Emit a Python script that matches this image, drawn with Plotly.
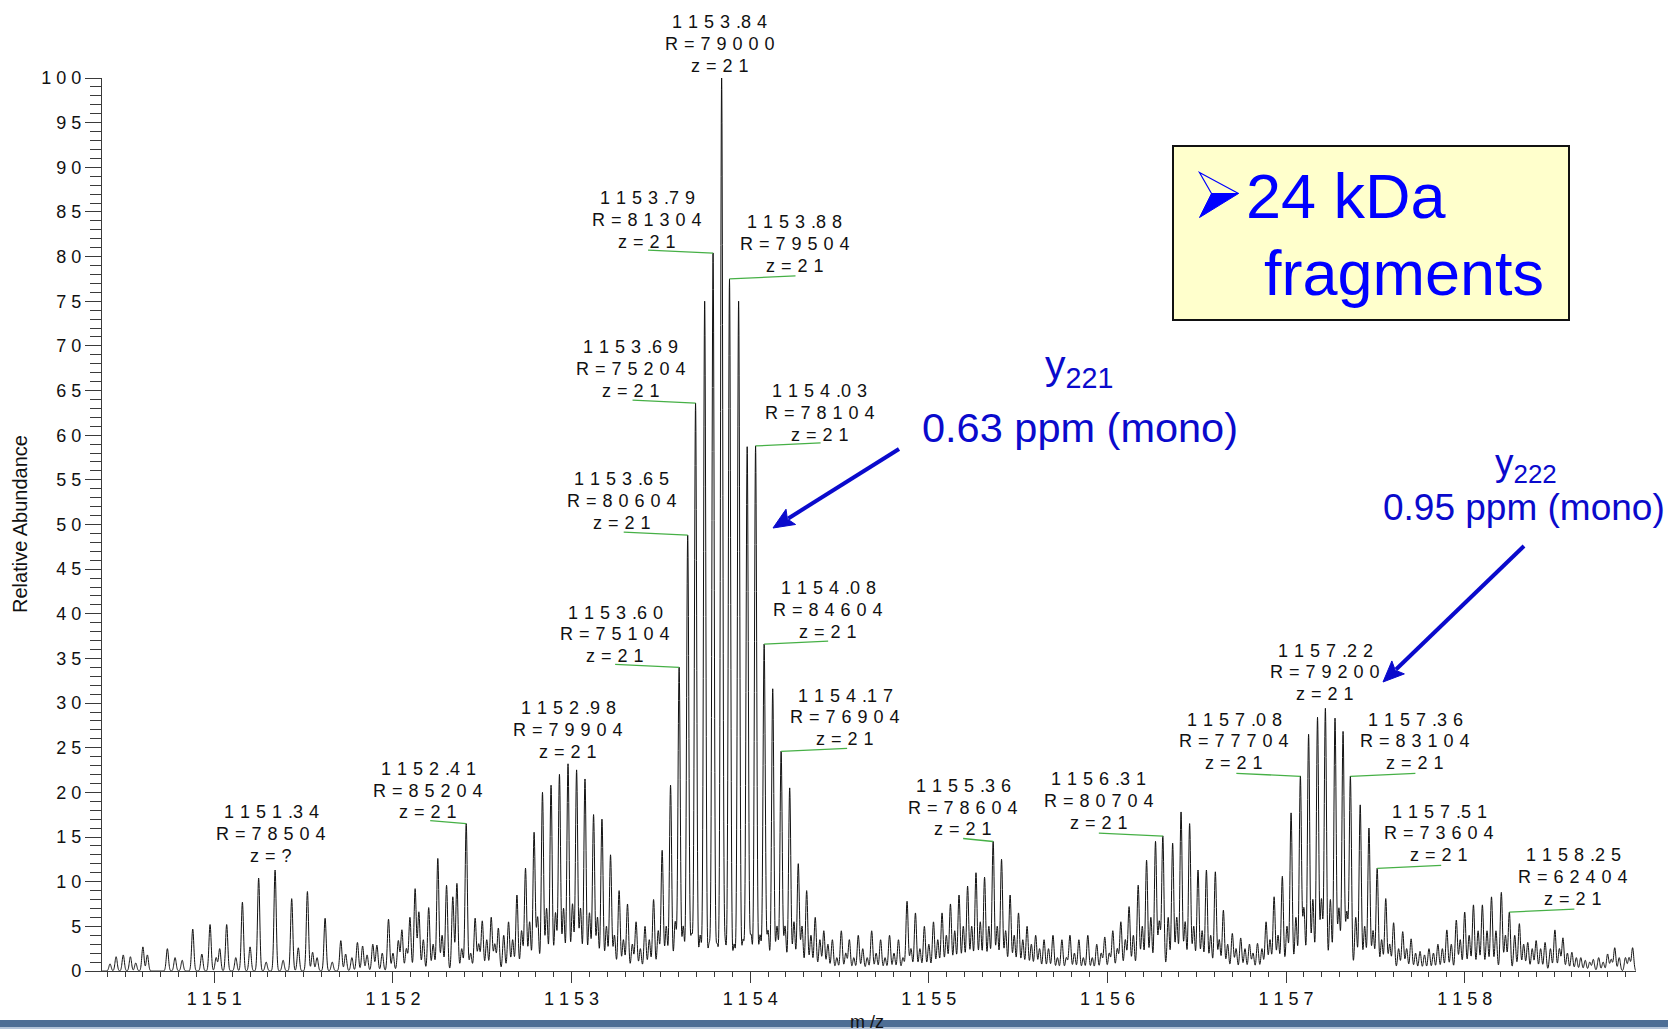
import numpy as np
import plotly.graph_objects as go

FONT = "Liberation Sans, Arial, Helvetica, sans-serif"

# ---------------- centroid peak list (m/z, relative abundance) ----------------
# 1150.4 - 1151.95 : low-level cluster around 1151.34
mz_a = [1150.416, 1150.45, 1150.49, 1150.53, 1150.56, 1150.60, 1150.625, 1150.737,
        1150.78, 1150.82, 1150.879, 1150.93, 1150.976, 1151.01, 1151.03, 1151.069,
        1151.12, 1151.157, 1151.20, 1151.248, 1151.29, 1151.34, 1151.385, 1151.433,
        1151.47, 1151.521, 1151.55, 1151.575, 1151.62, 1151.66, 1151.708, 1151.735,
        1151.77, 1151.801, 1151.83, 1151.855, 1151.887, 1151.91, 1151.94]
ab_a = [0.8, 1.6, 1.8, 1.6, 0.9, 2.7, 1.8, 2.5,
        1.5, 1.2, 4.7, 1.9, 5.2, 1.5, 2.5, 5.2,
        1.5, 7.7, 2.7, 10.4, 1.0, 11.3, 1.2, 8.1,
        2.6, 8.9, 2.1, 1.5, 5.9, 1.0, 3.4, 1.9,
        1.5, 3.2, 2.8, 1.8, 3.0, 2.9, 2.0]

# 1151.95 - 1152.60 : cluster around 1152.41
mz_b = [1151.975, 1152.00, 1152.03, 1152.05, 1152.075, 1152.095, 1152.124, 1152.145,
        1152.17, 1152.20, 1152.225, 1152.251, 1152.275, 1152.30, 1152.335, 1152.358,
        1152.385, 1152.41, 1152.435, 1152.46, 1152.48, 1152.50, 1152.525, 1152.55,
        1152.57, 1152.59]
ab_b = [5.8, 2.0, 3.4, 4.6, 2.5, 6.0, 9.2, 6.6,
        3.5, 7.1, 3.0, 12.6, 4.0, 9.6, 8.3, 9.8,
        2.5, 16.5, 2.0, 5.9, 3.0, 5.6, 3.5, 6.0,
        3.0, 4.8]

# 1152.60 - 1153.40 : isotope cluster around 1152.98
mz_c = [1152.62, 1152.647, 1152.67, 1152.694, 1152.72, 1152.742, 1152.765, 1152.79,
        1152.81, 1152.837, 1152.86, 1152.885, 1152.91, 1152.932, 1152.955, 1152.98,
        1153.005, 1153.028, 1153.05, 1153.075, 1153.10, 1153.123, 1153.145, 1153.17,
        1153.195, 1153.218, 1153.24, 1153.266, 1153.29, 1153.313, 1153.34, 1153.361,
        1153.385]
ab_c = [4.0, 5.5, 3.5, 8.5, 4.5, 11.5, 5.5, 15.5,
        6.0, 20.0, 7.0, 20.8, 6.5, 22.0, 7.0, 23.2,
        7.5, 22.5, 7.0, 21.5, 6.5, 17.5, 6.0, 17.0,
        5.0, 13.0, 4.0, 9.0, 3.5, 7.5, 3.0, 5.5,
        2.5]

# 1153.40 - 1154.45 : main isotope cluster, apex 1153.84
mz_d = [1153.411, 1153.435, 1153.459, 1153.485, 1153.507, 1153.53, 1153.554, 1153.58,
        1153.602, 1153.625, 1153.65, 1153.672, 1153.694, 1153.72, 1153.745, 1153.77,
        1153.792, 1153.815, 1153.84, 1153.86, 1153.884, 1153.91, 1153.935, 1153.96,
        1153.983, 1154.005, 1154.03, 1154.055, 1154.078, 1154.10, 1154.126, 1154.15,
        1154.173, 1154.195, 1154.221, 1154.245, 1154.269, 1154.29, 1154.316, 1154.34,
        1154.364, 1154.39, 1154.412, 1154.435]
ab_d = [5.0, 3.5, 8.0, 4.5, 13.5, 5.0, 20.8, 5.5,
        34.0, 5.0, 48.8, 4.0, 63.6, 4.0, 75.0, 3.0,
        80.4, 3.0, 100.0, 3.0, 77.5, 3.0, 75.0, 3.5,
        58.7, 4.0, 58.8, 4.0, 36.6, 4.5, 31.6, 5.0,
        24.6, 5.0, 20.5, 5.5, 12.0, 5.0, 9.0, 4.0,
        6.0, 3.5, 4.5, 3.0]

# 1154.45 - 1155.00 : baseline peaks
mz_e = [1154.46, 1154.485, 1154.51, 1154.535, 1154.555, 1154.58, 1154.605, 1154.63,
        1154.655, 1154.68, 1154.705, 1154.73, 1154.755, 1154.78, 1154.805, 1154.83,
        1154.855, 1154.878, 1154.90, 1154.925, 1154.95, 1154.975]
ab_e = [3.5, 1.5, 4.5, 2.0, 3.5, 1.5, 4.0, 2.5,
        1.5, 4.5, 2.0, 3.5, 1.5, 4.0, 2.0, 3.5,
        1.5, 7.8, 2.5, 6.5, 2.5, 5.0]

# 1155.00 - 1155.68 : cluster around 1155.36
mz_f = [1155.00, 1155.026, 1155.05, 1155.074, 1155.098, 1155.121, 1155.145, 1155.169,
        1155.193, 1155.217, 1155.24, 1155.264, 1155.288, 1155.312, 1155.336, 1155.36,
        1155.383, 1155.407, 1155.43, 1155.455, 1155.478, 1155.502, 1155.526, 1155.55,
        1155.574, 1155.598, 1155.62, 1155.645, 1155.67]
ab_f = [3.0, 5.5, 3.5, 6.5, 4.0, 7.5, 4.5, 8.5,
        5.0, 9.5, 5.0, 11.0, 5.5, 10.5, 5.0, 14.5,
        5.0, 12.5, 4.5, 8.5, 4.0, 6.5, 3.5, 5.0,
        3.0, 4.0, 2.5, 3.5, 2.5]

# 1155.69 - 1156.10 : baseline peaks
mz_g = [1155.695, 1155.72, 1155.745, 1155.77, 1155.79, 1155.815, 1155.84, 1155.865,
        1155.89, 1155.915, 1155.94, 1155.965, 1155.985, 1156.01, 1156.03, 1156.055,
        1156.075, 1156.10]
ab_g = [4.0, 1.5, 3.5, 1.5, 4.0, 2.0, 3.5, 1.5,
        4.0, 1.5, 3.0, 2.0, 3.8, 2.0, 4.5, 2.5,
        5.5, 3.5]

# 1156.10 - 1156.83 : cluster around 1156.31
mz_h = [1156.121, 1156.145, 1156.172, 1156.195, 1156.219, 1156.243, 1156.269, 1156.29,
        1156.31, 1156.34, 1156.365, 1156.388, 1156.412, 1156.435, 1156.46, 1156.483,
        1156.507, 1156.53, 1156.554, 1156.578, 1156.604, 1156.626, 1156.649, 1156.673,
        1156.699, 1156.72, 1156.746, 1156.77, 1156.795, 1156.815]
ab_h = [7.2, 4.0, 9.6, 5.0, 12.4, 6.0, 14.5, 5.5,
        15.1, 6.0, 14.3, 6.0, 17.8, 5.5, 16.5, 5.0,
        11.3, 4.5, 11.3, 4.0, 11.1, 3.5, 6.8, 3.0,
        4.2, 2.5, 3.7, 2.5, 3.0, 2.0]

# 1156.84 - 1157.89 : cluster around 1157.22
mz_i = [1156.84, 1156.865, 1156.888, 1156.91, 1156.933, 1156.955, 1156.979, 1157.005,
        1157.028, 1157.055, 1157.08, 1157.10, 1157.126, 1157.15, 1157.176, 1157.198,
        1157.22, 1157.248, 1157.274, 1157.296, 1157.319, 1157.34, 1157.36, 1157.39,
        1157.415, 1157.44, 1157.464, 1157.487, 1157.51, 1157.535, 1157.558, 1157.58,
        1157.602, 1157.63, 1157.653, 1157.675, 1157.70, 1157.725, 1157.75, 1157.775,
        1157.80, 1157.825, 1157.85, 1157.875]
ab_i = [3.1, 2.5, 5.5, 3.5, 8.3, 4.0, 10.6, 5.0,
        17.7, 6.0, 21.8, 7.0, 26.5, 8.0, 28.4, 8.0,
        29.4, 8.0, 28.3, 7.0, 26.8, 6.5, 21.8, 6.0,
        18.6, 5.0, 16.0, 4.5, 11.5, 3.5, 8.1, 3.0,
        5.4, 2.5, 4.4, 2.5, 3.6, 2.0, 2.2, 1.8,
        2.5, 2.0, 3.0, 2.5]

# 1157.90 - 1158.96 : cluster around 1158.25 and tail
mz_j = [1157.90, 1157.925, 1157.953, 1157.975, 1158.00, 1158.025, 1158.049, 1158.075,
        1158.099, 1158.125, 1158.15, 1158.175, 1158.205, 1158.228, 1158.25, 1158.28,
        1158.306, 1158.33, 1158.353, 1158.378, 1158.40, 1158.425, 1158.45, 1158.48,
        1158.505, 1158.53, 1158.55, 1158.575, 1158.60, 1158.625, 1158.65, 1158.675,
        1158.70, 1158.72, 1158.75, 1158.775, 1158.80, 1158.82, 1158.84, 1158.865,
        1158.90, 1158.92, 1158.94]
ab_j = [4.6, 3.0, 5.7, 3.5, 6.6, 4.0, 7.4, 4.5,
        7.4, 4.5, 8.3, 4.5, 8.8, 4.0, 6.6, 4.0,
        5.3, 3.0, 3.2, 2.5, 3.4, 2.5, 3.2, 2.5,
        4.6, 2.5, 3.7, 2.0, 2.1, 1.5, 1.5, 1.2,
        1.0, 1.3, 1.5, 1.0, 1.9, 1.3, 2.6, 1.5,
        1.5, 1.5, 2.6]

# ---------------- annotated peaks ----------------
label_mz = [1151.34, 1152.41, 1152.98, 1153.602, 1153.65, 1153.694, 1153.792, 1153.84,
            1153.884, 1154.03, 1154.078, 1154.173, 1155.36, 1156.31, 1157.08, 1157.22,
            1157.36, 1157.51, 1158.25]
label_R = [78504, 85204, 79904, 75104, 80604, 75204, 81304, 79000,
           79504, 78104, 84604, 76904, 78604, 80704, 77704, 79200,
           83104, 73604, 62404]
label_z = ["?", "21", "21", "21", "21", "21", "21", "21",
           "21", "21", "21", "21", "21", "21", "21", "21",
           "21", "21", "21"]

# label placement (pixel offsets of the middle text line from the peak top) and leader lines
label_dx = [-4, -38, 0, -64, -66, -65, -66, -2, 65, 64, 64, 64, -30, -64, -66, 0, 65, 62, 64]
label_dy = [36, 33, 34, 33, 34, 34, 33, 34, 35, 33, 34, 34, 34, 35, 35, 36, 35, 35, 35]
leader_dx = [None, -36, None, -64, -64, -63, -65, None, 66, 65, 64, 66, -30, -64, -64, None, 65, 64, 65]
LINE_PITCH = 21.8

x_ticks = [1151, 1152, 1153, 1154, 1155, 1156, 1157, 1158]
y_ticks = list(range(0, 101, 5))

# ---------------- profile trace built from the centroids ----------------
peak_mz = np.array(mz_a + mz_b + mz_c + mz_d + mz_e + mz_f + mz_g + mz_h + mz_i + mz_j)
peak_ab = np.array(ab_a + ab_b + ab_c + ab_d + ab_e + ab_f + ab_g + ab_h + ab_i + ab_j)
RESOLVING_POWER = 79000.0
X_RANGE = [1150.371, 1158.959]

mz_axis = np.arange(X_RANGE[0], X_RANGE[1], 0.001)
sigma = peak_mz / RESOLVING_POWER / 2.3548
profile = (peak_ab[:, None] *
           np.exp(-0.5 * ((mz_axis[None, :] - peak_mz[:, None]) / sigma[:, None]) ** 2)).sum(axis=0)


def spaced(s, gap=" "):
    """Wide character spacing used by the spectrum viewer's labels."""
    out = ""
    for i, ch in enumerate(s):
        out += ch
        if i < len(s) - 1 and ch != ".":
            out += gap
    return out


# plot-area geometry in pixels and paper-coordinate helpers
L, R, T, B = 102, 1636, 78, 971
W, H = 1668, 1031


def px(X):
    return (X - L) / (R - L)


def py(Y):
    return (B - Y) / (B - T)


def arrow_shapes(tail, tip, color, width=4, head_len=21, head_half=9):
    """Straight arrow (pixel positions) drawn as a shaft line plus a filled head."""
    (x0, y0), (x1, y1) = tail, tip
    d = np.hypot(x1 - x0, y1 - y0)
    ux, uy = (x1 - x0) / d, (y1 - y0) / d
    bx, by = x1 - head_len * ux, y1 - head_len * uy
    nx, ny = -uy, ux
    shaft = dict(type="line", xref="paper", yref="paper",
                 x0=px(x0), y0=py(y0), x1=px(bx + 3 * ux), y1=py(by + 3 * uy),
                 line=dict(color=color, width=width), layer="above")
    head = dict(type="path", xref="paper", yref="paper",
                path=(f"M {px(x1)} {py(y1)} "
                      f"L {px(bx + head_half * nx)} {py(by + head_half * ny)} "
                      f"L {px(bx + 4 * ux)} {py(by + 4 * uy)} "
                      f"L {px(bx - head_half * nx)} {py(by - head_half * ny)} Z"),
                fillcolor=color, line=dict(color=color, width=1), layer="above")
    return [shaft, head]


fig = go.Figure()
fig.add_trace(go.Scatter(
    x=mz_axis, y=profile, mode="lines",
    line=dict(color="#111111", width=1, simplify=False),
    hoverinfo="skip", showlegend=False))

annotations = []
shapes = []

# peak labels (three lines each) with green leader lines
LABEL_GAP = "\u2004"
for mz, res, z, dx, dy, ldx in zip(label_mz, label_R, label_z, label_dx, label_dy, leader_dx):
    h = float(peak_ab[np.isclose(peak_mz, mz)][0])
    lines = [spaced(f"{mz:.2f}", LABEL_GAP), spaced(f"R={res}", LABEL_GAP),
             spaced(f"z={z}", LABEL_GAP)]
    for k, line in enumerate(lines):
        annotations.append(dict(
            x=mz, y=h, xref="x", yref="y", text=line, showarrow=False,
            xanchor="center", yanchor="middle", xshift=dx,
            yshift=dy + (1 - k) * LINE_PITCH,
            font=dict(family=FONT, size=18, color="#111111")))
    if ldx is not None:
        shapes.append(dict(
            type="line", xref="x", yref="y", xsizemode="pixel", ysizemode="pixel",
            xanchor=mz, yanchor=h, x0=0, y0=0, x1=ldx, y1=3,
            line=dict(color="#46B046", width=1.3)))

# ion assignment callouts
BLUE = "#0A0ACC"
annotations += [
    dict(x=px(1079), y=py(368), xref="paper", yref="paper", text="y<sub>221</sub>",
         showarrow=False, xanchor="center", yanchor="middle",
         font=dict(family=FONT, size=41, color=BLUE)),
    dict(x=px(1080), y=py(427), xref="paper", yref="paper", text="0.63 ppm (mono)",
         showarrow=False, xanchor="center", yanchor="middle",
         font=dict(family=FONT, size=41.5, color=BLUE)),
    dict(x=px(1526), y=py(465), xref="paper", yref="paper", text="y<sub>222</sub>",
         showarrow=False, xanchor="center", yanchor="middle",
         font=dict(family=FONT, size=37, color=BLUE)),
    dict(x=px(1524), y=py(507), xref="paper", yref="paper", text="0.95 ppm (mono)",
         showarrow=False, xanchor="center", yanchor="middle",
         font=dict(family=FONT, size=37, color=BLUE)),
]
shapes += arrow_shapes((899, 449), (773, 528), BLUE)
shapes += arrow_shapes((1524, 546), (1383, 682), BLUE)

# "24 kDa fragments" box
shapes.append(dict(type="rect", xref="paper", yref="paper",
                   x0=px(1173), x1=px(1569), y0=py(320), y1=py(146),
                   fillcolor="#FFFFCC", line=dict(color="#111111", width=2), layer="above"))
# bullet arrowhead: hollow upper half, filled lower half
upper = (f"M {px(1199.5)} {py(172.5)} L {px(1238.5)} {py(193.5)} "
         f"L {px(1211.5)} {py(193.5)} Z")
lower = (f"M {px(1211.5)} {py(193.5)} L {px(1238.5)} {py(193.5)} "
         f"L {px(1199.5)} {py(217.5)} Z")
shapes.append(dict(type="path", xref="paper", yref="paper", path=upper,
                   fillcolor="rgba(0,0,0,0)", line=dict(color="#0000FF", width=1.2), layer="above"))
shapes.append(dict(type="path", xref="paper", yref="paper", path=lower,
                   fillcolor="#0000FF", line=dict(color="#0000FF", width=1), layer="above"))
annotations += [
    dict(x=px(1244), y=py(196), xref="paper", yref="paper", text="24 kDa",
         showarrow=False, xanchor="left", yanchor="middle",
         font=dict(family=FONT, size=63, color="#0000FF")),
    dict(x=px(1262), y=py(273), xref="paper", yref="paper", text="fragments",
         showarrow=False, xanchor="left", yanchor="middle",
         font=dict(family=FONT, size=63, color="#0000FF")),
]

# slide footer bar
shapes.append(dict(type="rect", xref="paper", yref="paper",
                   x0=px(0), x1=px(W), y0=py(1027), y1=py(1020),
                   fillcolor="#4E6E95", line=dict(width=0), layer="below"))
shapes.append(dict(type="rect", xref="paper", yref="paper",
                   x0=px(0), x1=px(W), y0=py(1029), y1=py(1027),
                   fillcolor="#B3C3D8", line=dict(width=0), layer="below"))

# axis titles
annotations += [
    dict(x=px(20), y=py(524), xref="paper", yref="paper", text="Relative Abundance",
         showarrow=False, textangle=-90, xanchor="center", yanchor="middle",
         font=dict(family=FONT, size=20, color="#111111")),
    dict(x=px(867), y=py(1022), xref="paper", yref="paper", text="m /z",
         showarrow=False, xanchor="center", yanchor="middle",
         font=dict(family=FONT, size=18, color="#111111")),
]

AXIS_COLOR = "#3a3a3a"
fig.update_layout(
    width=W, height=H,
    margin=dict(l=L, r=W - R, t=T, b=H - B, autoexpand=False),
    paper_bgcolor="white", plot_bgcolor="white",
    font=dict(family=FONT, color="#111111"),
    showlegend=False,
    xaxis=dict(
        range=X_RANGE, showgrid=False, zeroline=False, automargin=False,
        showline=True, linecolor=AXIS_COLOR, linewidth=1.2,
        ticks="outside", ticklen=11, tickwidth=1.2, tickcolor=AXIS_COLOR,
        tickmode="array", tickvals=x_ticks, ticktext=[spaced(str(t)) for t in x_ticks],
        tickfont=dict(family=FONT, size=18, color="#111111"),
        minor=dict(dtick=0.1, tick0=1151, ticks="outside", ticklen=5,
                   tickwidth=1, tickcolor=AXIS_COLOR, showgrid=False),
    ),
    yaxis=dict(
        range=[0, 100], showgrid=False, zeroline=False, automargin=False,
        showline=True, linecolor=AXIS_COLOR, linewidth=1.2,
        ticks="outside", ticklen=16, tickwidth=1.2, tickcolor=AXIS_COLOR,
        tickmode="array", tickvals=y_ticks, ticktext=[spaced(str(t)) for t in y_ticks],
        tickfont=dict(family=FONT, size=18, color="#111111"),
        minor=dict(dtick=1, tick0=0, ticks="outside", ticklen=11,
                   tickwidth=1, tickcolor=AXIS_COLOR, showgrid=False),
    ),
    annotations=annotations,
    shapes=shapes,
)

fig.write_html("out.html")
